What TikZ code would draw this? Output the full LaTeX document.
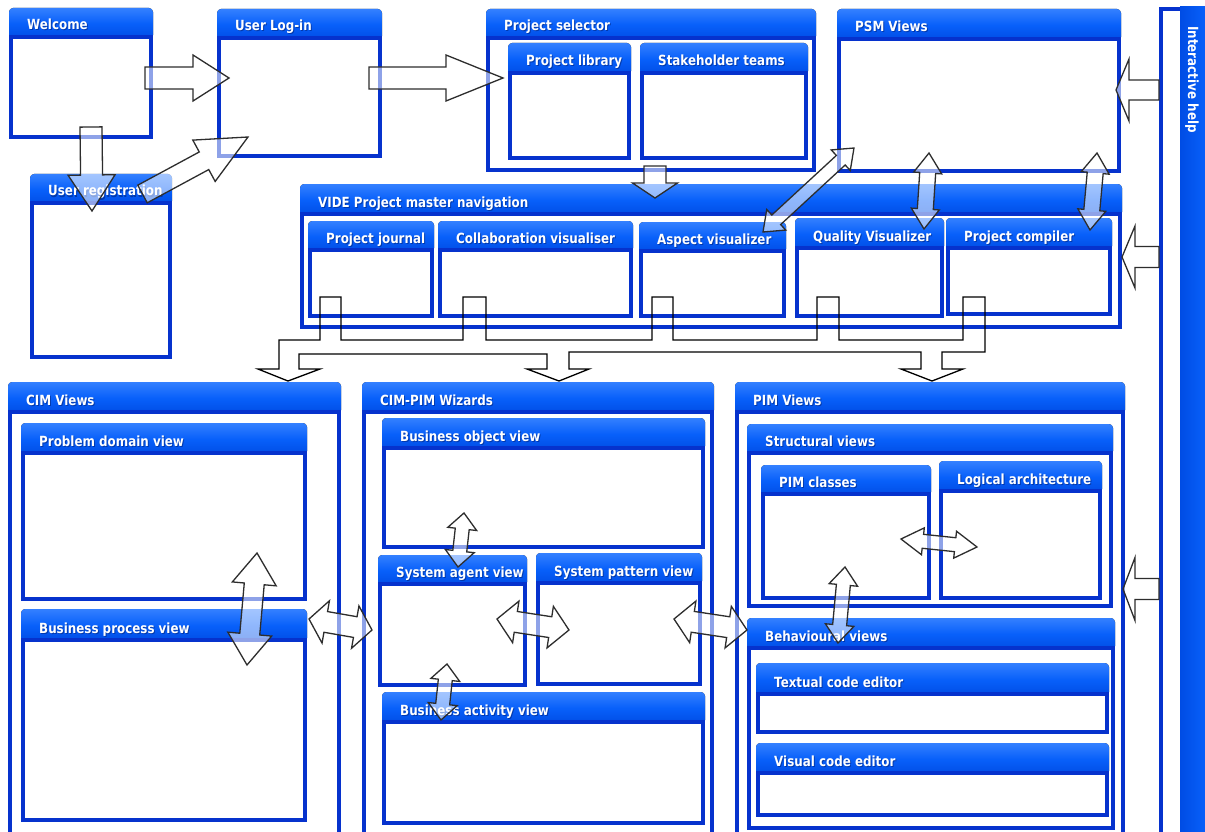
\documentclass[tikz,border=0pt]{standalone}
\usepackage{fontspec}
\newfontfamily\winfont[FakeStretch=0.85]{DejaVu Sans}
\usetikzlibrary{calc}

\definecolor{barhi}{RGB}{52,128,255}
\definecolor{barmid}{RGB}{8,96,250}
\definecolor{barlo}{RGB}{0,76,228}
\definecolor{frameblue}{RGB}{6,50,205}
\definecolor{shadowblue}{RGB}{0,20,90}
\definecolor{arrowline}{RGB}{45,45,45}

\tikzset{
  winbar/.style={top color=barhi, bottom color=barlo, middle color=barmid},
  winframe/.style={draw=frameblue, line width=4pt, fill=white},
  wintitle/.style={text=white, font=\winfont\bfseries\fontsize{14}{16}\selectfont,
    inner sep=0pt, anchor=base west},
  winshadow/.style={wintitle, text=shadowblue, opacity=0.45},
  blockarrow/.style={draw=arrowline, line width=1.3pt, fill=white, fill opacity=0.55,
    line join=miter},
  bus/.style={draw=black, line width=1.3pt, line join=miter},
}

% window: name, left, top, right, title bottom, bottom, title
\newcommand\win[7]{%
  \fill[winbar, rounded corners=4pt] (#2,{#5+2}) -- (#2,#3) -- (#4,#3) -- (#4,{#5+2}) -- cycle;
  \draw[winframe] ({#2+2},#5) rectangle ({#4-2},{#6-2});
  \node[winshadow] (#1-sh) at ({#2+19},{#5-6}) {#7};
  \node[wintitle] (#1) at ({#2+18},{#5-7}) {#7};
}

% block arrows between two named coordinates:
% from, to, shaft half width, head half width, head length
\newcommand\blkprep[2]{%
  \path (#1); \pgfgetlastxy{\blkax}{\blkay}%
  \path (#2); \pgfgetlastxy{\blkbx}{\blkby}%
  \pgfmathsetmacro\blkang{atan2((\blkby)-(\blkay),(\blkbx)-(\blkax))}%
  \pgfmathsetmacro\blklen{veclen((\blkbx)-(\blkax),(\blkby)-(\blkay))}%
}
\newcommand\sarrow[5]{%
  \blkprep{#1}{#2}%
  \begin{scope}[shift={(#1)}, rotate=\blkang, x=1pt, y=1pt]
    \draw[blockarrow] (0,-#3) -- ({\blklen-#5},-#3) -- ({\blklen-#5},-#4) -- (\blklen,0)
      -- ({\blklen-#5},#4) -- ({\blklen-#5},#3) -- (0,#3) -- cycle;
  \end{scope}
}
\newcommand\darrow[5]{%
  \blkprep{#1}{#2}%
  \begin{scope}[shift={(#1)}, rotate=\blkang, x=1pt, y=1pt]
    \draw[blockarrow] (0,0) -- (#5,-#4) -- (#5,-#3) -- ({\blklen-#5},-#3) -- ({\blklen-#5},-#4)
      -- (\blklen,0) -- ({\blklen-#5},#4) -- ({\blklen-#5},#3) -- (#5,#3) -- (#5,#4) -- cycle;
  \end{scope}
}

\begin{document}
\begin{tikzpicture}[x=1pt, y=-1pt]
\clip (0,0) rectangle (1205,832);
\fill[white] (0,0) rectangle (1205,832);

% top row
\win{welcome}{9}{8}{153}{37}{139}{Welcome}
\win{login}{217}{9}{382}{38}{158}{User Log-in}
\win{selector}{486}{9}{816}{38}{172}{Project selector}
\win{library}{508}{43}{631}{73}{160}{Project library}
\win{teams}{640}{43}{808}{73}{160}{Stakeholder teams}
\win{psm}{837}{9}{1121}{39}{173}{PSM Views}
\win{register}{30}{174}{172}{203}{359}{User registration}

% master navigation
\win{master}{300}{184}{1122}{214}{329}{VIDE Project master navigation}
\win{journal}{308}{221}{434}{250}{318}{Project journal}
\win{collab}{438}{221}{633}{250}{318}{Collaboration visualiser}
\win{aspect}{639}{222}{786}{251}{318}{Aspect visualizer}
\win{quality}{795}{218}{944}{248}{318}{Quality Visualizer}
\win{compiler}{946}{218}{1112}{248}{316}{Project compiler}

% CIM views
\win{cim}{8}{382}{341}{412}{845}{CIM Views}
\win{problem}{21}{423}{307}{453}{601}{Problem domain view}
\win{process}{21}{609}{307}{640}{822}{Business process view}

% CIM-PIM wizards
\win{wizards}{362}{382}{714}{412}{845}{CIM-PIM Wizards}
\win{bobject}{382}{418}{705}{448}{549}{Business object view}
\win{agent}{378}{555}{527}{584}{687}{System agent view}
\win{pattern}{536}{553}{702}{583}{686}{System pattern view}
\win{activity}{382}{692}{705}{722}{825}{Business activity view}

% PIM views
\win{pim}{735}{382}{1125}{412}{845}{PIM Views}
\win{structural}{747}{424}{1113}{453}{608}{Structural views}
\win{classes}{761}{465}{931}{494}{600}{PIM classes}
\win{logical}{939}{461}{1102}{491}{600}{Logical architecture}
\win{behaviour}{747}{618}{1115}{648}{830}{Behavioural views}
\win{textual}{756}{663}{1109}{694}{734}{Textual code editor}
\win{visual}{756}{743}{1109}{773}{817}{Visual code editor}

% interactive help side panel
\draw[winframe] (1161,9) rectangle (1182,845);
\shade[left color=barlo, right color=barmid] (1180,7) rectangle (1205,845);
\node[wintitle, rotate=-90] (help) at (1188,26) {Interactive help};

% block arrows
\coordinate (a1t) at (145,78);   \coordinate (a1h) at (229,78);
\coordinate (a2t) at (369,78);   \coordinate (a2h) at (503,78);
\coordinate (a3t) at (91,127);   \coordinate (a3h) at (92,211);
\coordinate (a4t) at (142.5,194); \coordinate (a4h) at (248,137);
\coordinate (a5t) at (655,166);  \coordinate (a5h) at (655,198);
\sarrow{a1t}{a1h}{11}{23}{36}
\sarrow{a2t}{a2h}{11}{23}{57}
\sarrow{a3t}{a3h}{11}{23.5}{36}
\sarrow{a4t}{a4h}{10}{23.5}{50}
\sarrow{a5t}{a5h}{11}{22.5}{15}

\coordinate (d1a) at (763,232);  \coordinate (d1b) at (854,148);
\coordinate (d2a) at (929,153);  \coordinate (d2b) at (924,229);
\coordinate (d3a) at (1097,153); \coordinate (d3b) at (1090,230);
\coordinate (d4a) at (257,553);  \coordinate (d4b) at (247,665);
\coordinate (d5a) at (309,619);  \coordinate (d5b) at (372,630);
\coordinate (d6a) at (497,619);  \coordinate (d6b) at (569,630);
\coordinate (d7a) at (674,619);  \coordinate (d7b) at (747,630);
\coordinate (d8a) at (464,513);  \coordinate (d8b) at (458,567);
\coordinate (d9a) at (447,664);  \coordinate (d9b) at (441,720);
\coordinate (d10a) at (901,539); \coordinate (d10b) at (977,547);
\coordinate (d11a) at (845,567); \coordinate (d11b) at (838,643);
\darrow{d1a}{d1b}{6.5}{14}{18}
\darrow{d2a}{d2b}{8}{14}{20}
\darrow{d3a}{d3b}{8}{14}{20}
\darrow{d4a}{d4b}{10}{22}{31}
\darrow{d5a}{d5b}{10.5}{21.5}{17}
\darrow{d6a}{d6b}{10.5}{21}{19}
\darrow{d7a}{d7b}{10.5}{21}{19}
\darrow{d8a}{d8b}{7}{14.5}{16}
\darrow{d9a}{d9b}{7}{14.5}{16}
\darrow{d10a}{d10b}{7}{13.5}{22}
\darrow{d11a}{d11b}{7}{14.3}{18}

% arrows from the help panel
\coordinate (h1t) at (1159,90);  \coordinate (h1h) at (1116,90);
\coordinate (h2t) at (1159,257); \coordinate (h2h) at (1122,257);
\coordinate (h3t) at (1159,589); \coordinate (h3h) at (1123,589);
\sarrow{h1t}{h1h}{10}{31}{13}
\sarrow{h2t}{h2h}{10.5}{31}{13}
\sarrow{h3t}{h3h}{10.5}{31.5}{12}

% outlined bus from the navigation panes down to the three view groups
\draw[bus] (288,381) -- (320,369) -- (299,369) -- (299,354) -- (547,354) -- (547,369)
  -- (527,369) -- (559,381) -- (589,369) -- (569,369) -- (569,352) -- (921,352)
  -- (921,369) -- (901,369) -- (932,381) -- (963,369) -- (942,369) -- (942,352)
  -- (985,352) -- (985,297) -- (963,297) -- (963,340) -- (839,340) -- (839,297)
  -- (817,297) -- (817,340) -- (673,340) -- (673,297) -- (652,297) -- (652,340)
  -- (486,340) -- (486,297) -- (463,297) -- (463,340) -- (341,340) -- (341,297)
  -- (320,297) -- (320,340) -- (279,340) -- (279,369) -- (258,369) -- cycle;
\end{tikzpicture}
\end{document}
